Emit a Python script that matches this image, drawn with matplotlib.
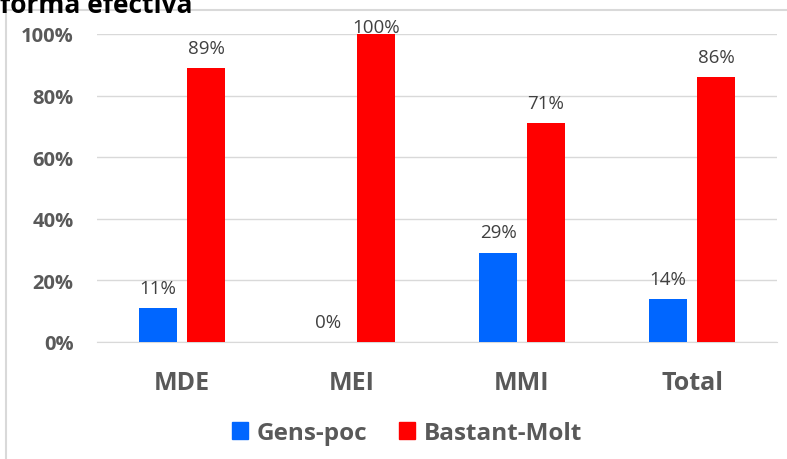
import matplotlib.pyplot as plt
from matplotlib.patches import Rectangle, Patch
import numpy as np

categories = ["MDE", "MEI", "MMI", "Total"]
gens_poc = [0.11, 0.00, 0.29, 0.14]
bastant_molt = [0.89, 1.00, 0.71, 0.86]
series_names = ["Gens-poc", "Bastant-Molt"]
yticks = [0, 0.2, 0.4, 0.6, 0.8, 1.0]

blue = "#0066FF"
red = "#FF0000"
grey = "#595959"

plt.rcParams['font.family'] = ['Open Sans', 'DejaVu Sans']

fig = plt.figure(figsize=(7.87, 4.6), dpi=100)
ax = fig.add_axes([97/787, 117/460, 680/787, 308/460])

x = np.arange(len(categories))
w = 0.224
off = 0.141
b1 = ax.bar(x - off, gens_poc, w, color=blue, zorder=3)
b2 = ax.bar(x + off, bastant_molt, w, color=red, zorder=3)

# data labels above bars (pushed down near the top like Excel does)
for bars, vals in [(b1, gens_poc), (b2, bastant_molt)]:
    for rect, v in zip(bars, vals):
        dy = min(11, (1.0 - v) * 308 * 0.72 + 1.5)
        ax.annotate("{:.0f}%".format(v * 100),
                    (rect.get_x() + rect.get_width() / 2, v),
                    xytext=(0, dy), textcoords="offset points",
                    ha="center", va="baseline", fontsize=13.5, color="#404040")

ax.set_xlim(-0.5, len(categories) - 0.5)
ax.set_ylim(0, 1.0)
ax.set_yticks(yticks)
ax.set_yticklabels(["{:.0f}%".format(t * 100) for t in yticks],
                   fontsize=14.5, fontweight="bold", color=grey)
ax.set_xticks(x)
ax.set_xticklabels(categories, fontsize=18, fontweight="bold", color=grey)
ax.tick_params(axis="y", length=0, pad=17)
ax.tick_params(axis="x", length=0, pad=20)
ax.grid(axis="y", color="#d9d9d9", lw=1, zorder=0)
for s in ["top", "right", "left"]:
    ax.spines[s].set_visible(False)
ax.spines["bottom"].set_color("#d9d9d9")

handles = [Patch(color=blue), Patch(color=red)]
leg = fig.legend(handles, series_names, loc="center", bbox_to_anchor=(407/787, 1 - 434/460),
                 ncol=2, frameon=False, handlelength=0.67, handleheight=0.67,
                 handletextpad=0.35, columnspacing=1.3,
                 prop={"size": 17.5, "weight": "bold"})
for t in leg.get_texts():
    t.set_color(grey)

# chart frame (cut off by the image edge)
fig.patches.append(Rectangle((6/787, -0.1), 1.0, 1 - 11/460 + 0.1, transform=fig.transFigure,
                             fill=False, edgecolor="#d9d9d9", lw=1.5))

fig.text(0.0, 1 - 13/460, "forma efectiva", fontsize=19, fontweight="bold",
         color="black", va="baseline", ha="left")

plt.savefig("out.png", dpi=100)
